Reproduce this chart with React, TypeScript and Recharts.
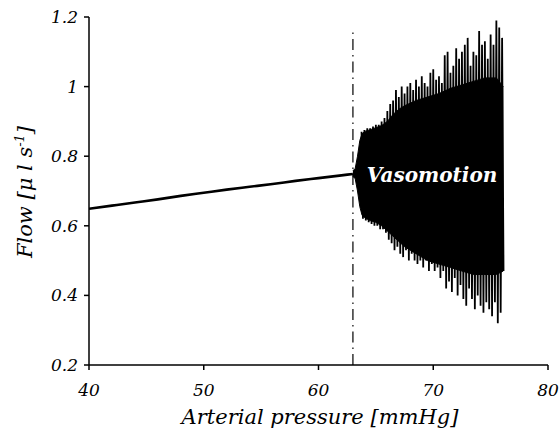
import React from 'react';
import { ComposedChart, Line, Area, XAxis, YAxis, ReferenceLine, ReferenceDot } from 'recharts';

// steady flow before vasomotion
const pressure = [40, 42, 44, 46, 48, 50, 52, 54, 56, 58, 60, 62, 63];
const flow = [0.649, 0.658, 0.667, 0.676, 0.686, 0.695, 0.704, 0.712, 0.72, 0.729, 0.737, 0.745, 0.749];

// solid part of the oscillation band
const coreX = [63.0, 63.2, 63.4, 63.6, 63.8, 64.1, 64.5, 65.0, 65.5, 66.0, 66.5, 67.0, 67.5, 68.5, 69.5, 70.5, 71.5, 72.5, 73.5, 74.5, 75.5, 76.1];
const coreLo = [0.742, 0.735, 0.7, 0.655, 0.63, 0.622, 0.615, 0.61, 0.6, 0.585, 0.57, 0.555, 0.54, 0.52, 0.5, 0.49, 0.48, 0.47, 0.46, 0.46, 0.46, 0.47];
const coreHi = [0.758, 0.765, 0.8, 0.845, 0.865, 0.872, 0.876, 0.882, 0.888, 0.9, 0.92, 0.935, 0.945, 0.96, 0.97, 0.98, 0.995, 1.005, 1.015, 1.025, 1.025, 1.0];

// individual spikes (peak / trough per cycle)
const spikeX = [63.75, 64.0, 64.25, 64.5, 64.75, 65.0, 65.25, 65.5, 65.75, 66.0, 66.25, 66.5, 66.75, 67.0, 67.25, 67.5, 67.75, 68.0, 68.25, 68.5, 68.75, 69.0, 69.25, 69.5, 69.75, 70.0, 70.25, 70.5, 70.75, 71.0, 71.25, 71.5, 71.75, 72.0, 72.25, 72.5, 72.75, 73.0, 73.25, 73.5, 73.75, 74.0, 74.25, 74.5, 74.75, 75.0, 75.25, 75.5, 75.75, 76.0];
const spikeHi = [0.87, 0.875, 0.88, 0.88, 0.885, 0.89, 0.89, 0.9, 0.91, 0.93, 0.95, 0.96, 0.99, 0.97, 1.0, 0.98, 1.0, 1.01, 0.99, 1.02, 1.0, 1.03, 1.01, 1.0, 1.04, 1.05, 1.02, 1.03, 1.01, 1.09, 1.1, 1.04, 1.06, 1.11, 1.08, 1.1, 1.12, 1.14, 1.06, 1.1, 1.09, 1.16, 1.12, 1.13, 1.08, 1.15, 1.12, 1.19, 1.17, 1.14];
const spikeLo = [0.62, 0.615, 0.61, 0.605, 0.6, 0.6, 0.59, 0.59, 0.58, 0.56, 0.55, 0.53, 0.54, 0.52, 0.51, 0.53, 0.5, 0.52, 0.5, 0.49, 0.5, 0.48, 0.5, 0.47, 0.49, 0.47, 0.48, 0.45, 0.47, 0.42, 0.44, 0.41, 0.45, 0.4, 0.43, 0.39, 0.37, 0.42, 0.39, 0.36, 0.4, 0.37, 0.35, 0.38, 0.36, 0.34, 0.38, 0.32, 0.35, 0.47];

const xTicks = [40, 50, 60, 70, 80];
const yTicks = [0.2, 0.4, 0.6, 0.8, 1, 1.2];

const baseData = pressure.map((p, i) => ({ x: p, y: flow[i] }));
const coreData = coreX.map((p, i) => ({ x: p, range: [coreLo[i], coreHi[i]] }));
const spikeData = spikeX.flatMap((p, i) => [
  { x: p, y: spikeHi[i] },
  { x: p + 0.125, y: spikeLo[i] },
]);

const serif = "'DejaVu Serif', serif";
const tickStyle = { fontSize: 17, fontStyle: 'italic', fontFamily: serif, fill: '#000' };

const FlowLabel = () => (
  <text
    x={32}
    y={192}
    transform="rotate(-90 32 192)"
    textAnchor="middle"
    style={{ fontFamily: serif, fontStyle: 'italic', fontSize: 21 }}
    fill="#000"
  >
    Flow [μ l s<tspan dy={-8} style={{ fontSize: 13 }}>-1</tspan><tspan dy={8}>]</tspan>
  </text>
);

const PressureLabel = () => (
  <text
    x={320}
    y={424}
    textAnchor="middle"
    style={{ fontFamily: serif, fontStyle: 'italic', fontSize: 21 }}
    fill="#000"
  >
    Arterial pressure [mmHg]
  </text>
);

export default function App() {
  return (
    <div style={{ width: 559, height: 434, background: '#fff', fontFamily: serif }}>
      <style>{`body{margin:0}`}</style>
      <ComposedChart width={559} height={434} margin={{ top: 17, right: 11, left: 0, bottom: 0 }}>
        <XAxis
          type="number"
          dataKey="x"
          domain={[40, 80]}
          ticks={xTicks}
          allowDataOverflow
          height={69}
          tick={tickStyle}
          tickSize={5}
          tickMargin={14}
          stroke="#000"
          strokeWidth={1.5}
          label={<PressureLabel />}
        />
        <YAxis
          type="number"
          domain={[0.2, 1.2]}
          ticks={yTicks}
          allowDataOverflow
          width={89}
          tick={tickStyle}
          tickSize={5}
          tickMargin={6}
          tickFormatter={(v: number) => String(v)}
          stroke="#000"
          strokeWidth={1.5}
          label={<FlowLabel />}
        />
        <Area
          data={coreData}
          dataKey="range"
          type="linear"
          stroke="#000"
          strokeWidth={1}
          fill="#000"
          fillOpacity={1}
          isAnimationActive={false}
        />
        <Line
          data={spikeData}
          dataKey="y"
          type="linear"
          stroke="#000"
          strokeWidth={1.8}
          dot={false}
          isAnimationActive={false}
        />
        <Line
          data={baseData}
          dataKey="y"
          type="monotone"
          stroke="#000"
          strokeWidth={2.6}
          dot={false}
          isAnimationActive={false}
        />
        <ReferenceLine
          segment={[{ x: 63, y: 0.2 }, { x: 63, y: 1.17 }]}
          stroke="#000"
          strokeWidth={1.2}
          strokeDasharray="11 5 1.5 5"
        />
        <ReferenceDot
          x={69.9}
          y={0.746}
          r={0}
          label={{
            value: 'Vasomotion',
            fill: '#fff',
            style: { fontFamily: serif, fontStyle: 'italic', fontWeight: 'bold', fontSize: 20 },
          }}
        />
      </ComposedChart>
    </div>
  );
}
